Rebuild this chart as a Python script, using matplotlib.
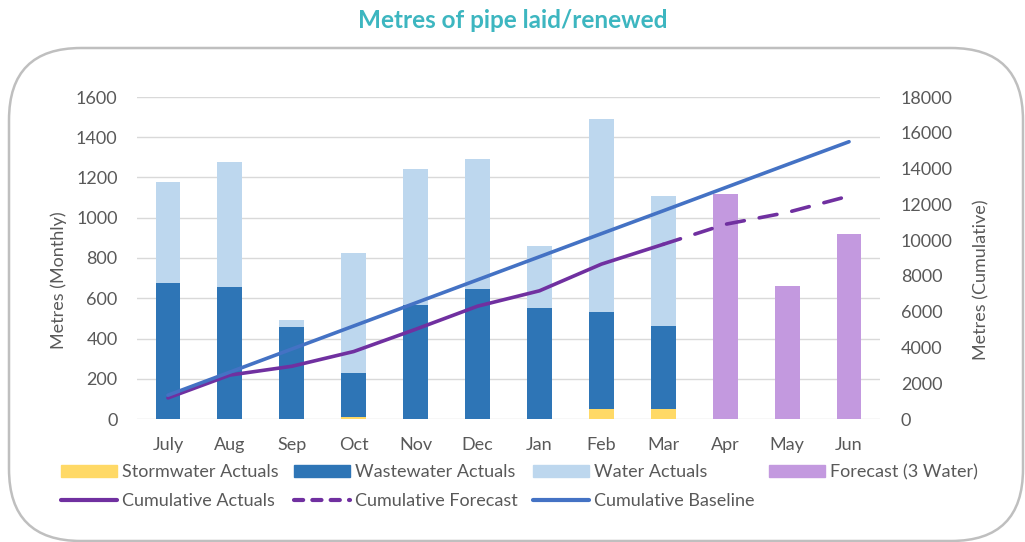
import matplotlib
matplotlib.use("Agg")
import matplotlib.pyplot as plt
from matplotlib.patches import FancyBboxPatch, Patch
from matplotlib.lines import Line2D
from matplotlib.transforms import IdentityTransform

plt.rcParams['font.family'] = ['Lato', 'DejaVu Sans']

months = ["July", "Aug", "Sep", "Oct", "Nov", "Dec", "Jan", "Feb", "Mar", "Apr", "May", "Jun"]
stormwater = [0, 0, 0, 8, 0, 0, 0, 48, 48, 0, 0, 0]
wastewater = [676, 656, 457, 221, 566, 646, 552, 485, 416, 0, 0, 0]
water = [502, 621, 35, 596, 676, 646, 308, 958, 644, 0, 0, 0]
forecast = [0, 0, 0, 0, 0, 0, 0, 0, 0, 1117, 663, 918]

cum_actual_months = months[:9]
cum_actuals = [1178, 2455, 2947, 3772, 5014, 6306, 7166, 8657, 9765]
cum_forecast_months = months[8:]
cum_forecast = [9765, 10882, 11545, 12463]
cum_baseline = [1330, 2620, 3910, 5200, 6490, 7780, 9070, 10360, 11640, 12930, 14220, 15500]

left_ticks = [0, 200, 400, 600, 800, 1000, 1200, 1400, 1600]
right_ticks = [0, 2000, 4000, 6000, 8000, 10000, 12000, 14000, 16000, 18000]

C_STORM = "#FFD966"
C_WASTE = "#2E75B6"
C_WATER = "#BDD7EE"
C_FORE = "#C399DF"
C_CUMACT = "#7030A0"
C_BASE = "#4472C4"
TXT = "#595959"
FS = 13

W, H = 1025, 542
fig = plt.figure(figsize=(W / 100, H / 100), dpi=100)

# rounded border
border = FancyBboxPatch((9, 1), 1023 - 9, 541 - 48,
                        boxstyle="round,pad=0,rounding_size=72",
                        transform=IdentityTransform(), facecolor="white",
                        edgecolor="#BFBFBF", linewidth=1.8, zorder=0)
fig.patches.append(border)

fig.text(0.5, 1 - 20 / H, "Metres of pipe laid/renewed", ha="center", va="center",
         color="#3DB6C0", fontsize=17.5, fontweight="bold")

ax = fig.add_axes([137 / W, 123 / H, (880 - 137) / W, 322 / H])
ax.set_zorder(1)
ax.patch.set_visible(False)
x = list(range(len(months)))
bw = 0.4
ax.bar(x, stormwater, bw, color=C_STORM, zorder=2)
ax.bar(x, wastewater, bw, bottom=stormwater, color=C_WASTE, zorder=2)
bottom2 = [s + w for s, w in zip(stormwater, wastewater)]
ax.bar(x, water, bw, bottom=bottom2, color=C_WATER, zorder=2)
ax.bar(x, forecast, bw, color=C_FORE, zorder=2)

ax.set_xlim(-0.5, len(months) - 0.5)
ax.set_ylim(0, 1600)
ax.set_yticks(left_ticks)
ax.set_xticks(x)
ax.set_xticklabels(months)
ax.yaxis.grid(True, color="#D9D9D9", linewidth=1.0, zorder=0)
ax.set_axisbelow(True)
for s in ax.spines.values():
    s.set_visible(False)
ax.tick_params(axis="both", length=0, labelsize=FS, colors=TXT)
ax.tick_params(axis="y", pad=14)
ax.tick_params(axis="x", pad=13)
ax.set_ylabel("Metres (Monthly)", fontsize=FS, color=TXT)
ax.yaxis.set_label_coords(-(137 - 67) / (880 - 137), (419 - 280) / 322)

ax2 = ax.twinx()
ax2.set_zorder(2)
ax2.set_ylim(0, 18000)
ax2.set_yticks(right_ticks)
for s in ax2.spines.values():
    s.set_visible(False)
ax2.tick_params(axis="y", length=0, labelsize=FS, colors=TXT, pad=15)
ax2.set_ylabel("Metres (Cumulative)", fontsize=FS, color=TXT, rotation=90)
ax2.yaxis.set_label_coords(1 + (973 - 880) / (880 - 137), (419 - 280) / 322)

idx = {m: i for i, m in enumerate(months)}
ax2.plot([idx[m] for m in cum_actual_months], cum_actuals, color=C_CUMACT,
         linewidth=2.6, solid_capstyle="round", solid_joinstyle="round", zorder=3)
ax2.plot([idx[m] for m in cum_forecast_months], cum_forecast, color=C_CUMACT,
         linewidth=2.6, dashes=(5, 4.2), dash_capstyle="round", zorder=3)
ax2.plot(x, cum_baseline, color=C_BASE, linewidth=2.6, solid_capstyle="round", zorder=4)

handles = [
    Patch(color=C_STORM), Line2D([], [], color=C_CUMACT, linewidth=3, solid_capstyle="round"),
    Patch(color=C_WASTE), Line2D([], [], color=C_CUMACT, linewidth=3, dashes=(2.2, 2.2), dash_capstyle="round"),
    Patch(color=C_WATER), Line2D([], [], color=C_BASE, linewidth=3, solid_capstyle="round"),
    Patch(color=C_FORE),
]
labels = ["Stormwater Actuals", "Cumulative Actuals", "Wastewater Actuals", "Cumulative Forecast",
          "Water Actuals", "Cumulative Baseline", "Forecast (3 Water)"]
leg = fig.legend(handles, labels, ncol=4, loc="upper left",
                 bbox_to_anchor=(61 / W, 1 - 464 / H), frameon=False,
                 fontsize=FS, handlelength=3.1, handleheight=0.68, handletextpad=0.27,
                 columnspacing=0.85, labelspacing=0.72, borderpad=0, borderaxespad=0)
for t in leg.get_texts():
    t.set_color(TXT)

fig.savefig("out.png", dpi=100)
